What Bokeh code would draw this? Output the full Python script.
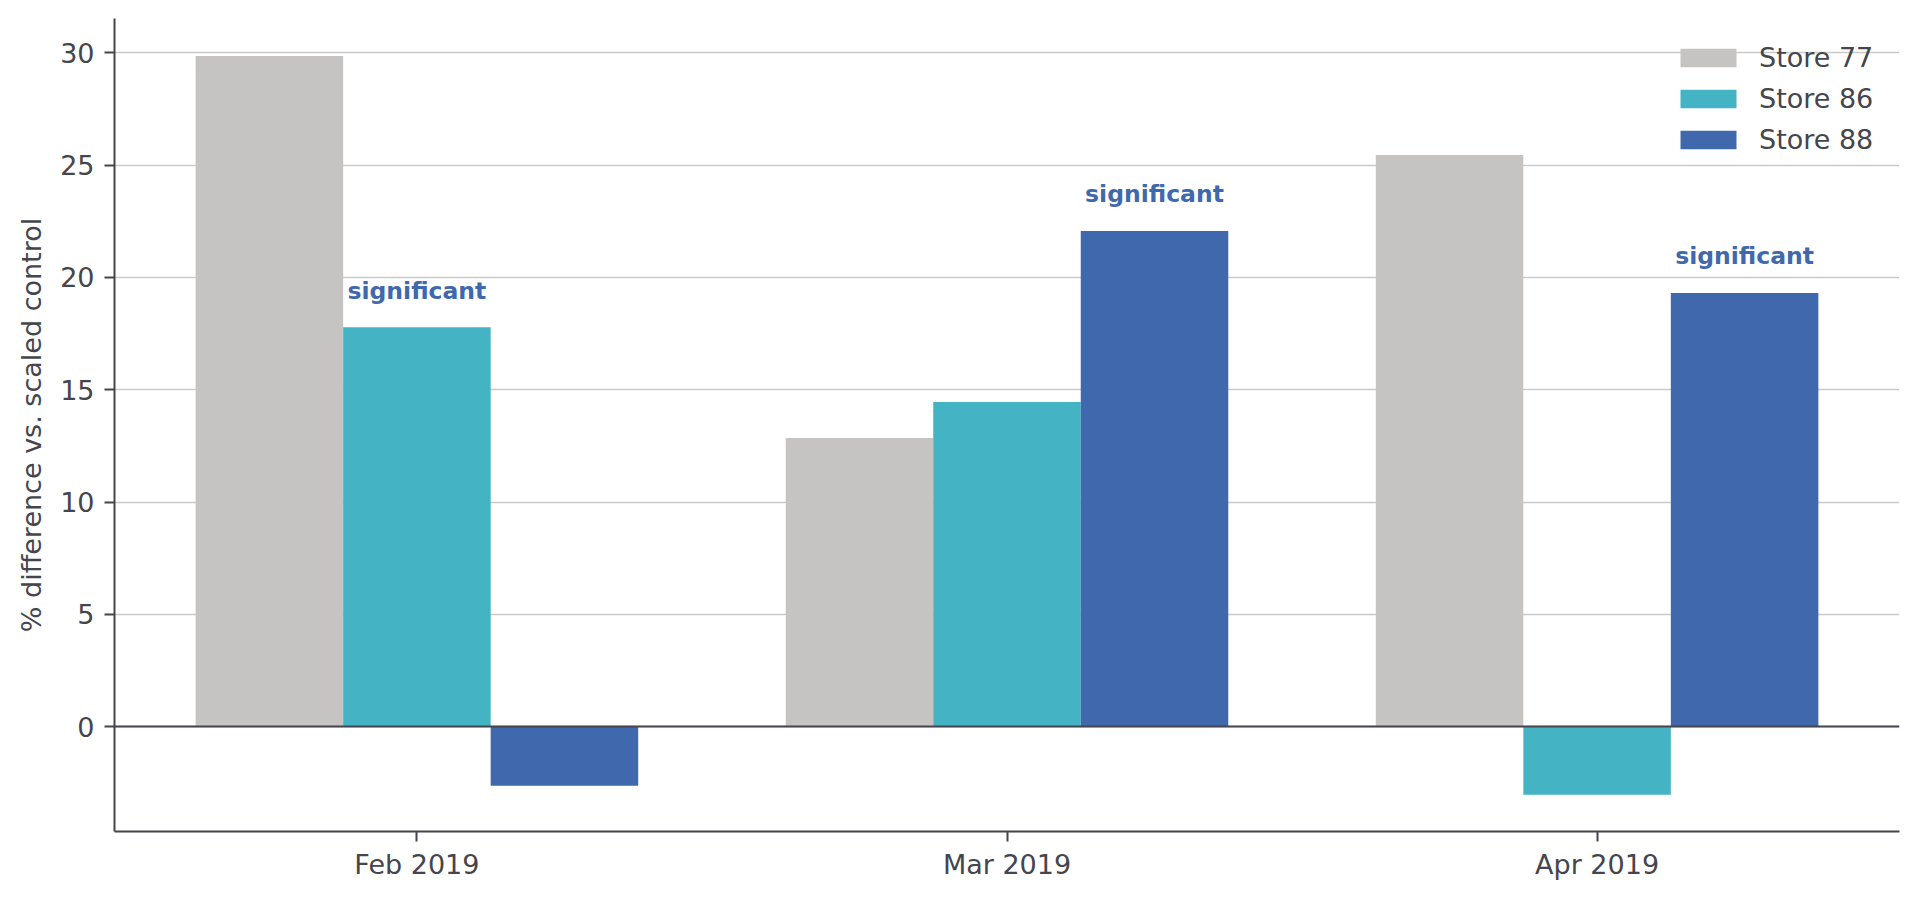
from bokeh.plotting import figure
from bokeh.models import (ColumnDataSource, FactorRange, Range1d, Span,
                          Legend, LegendItem, FixedTicker)
from bokeh.transform import dodge
from bokeh.core.properties import value
from bokeh.embed import file_html
from bokeh.resources import INLINE

# ---- data ----
months = ["Feb 2019", "Mar 2019", "Apr 2019"]
store77 = [29.86, 12.85, 25.45]
store86 = [17.78, 14.45, -3.03]
store88 = [-2.63, 22.07, 19.31]
sig86 = ["significant", "", ""]
sig88 = ["", "significant", "significant"]
y_ticks = [0, 5, 10, 15, 20, 25, 30]

C77 = "#c5c4c2"
C86 = "#44b4c4"
C88 = "#4068ac"
TXT = "#45454d"
FONT = "DejaVu Sans"

source = ColumnDataSource(dict(
    month=months, s77=store77, s86=store86, s88=store88,
    sig86=sig86, sig88=sig88,
    y86=[v + 1 for v in store86], y88=[v + 1 for v in store88],
))

p = figure(
    width=1920, height=899, output_backend="svg", toolbar_location=None,
    x_range=FactorRange(factors=months, range_padding=0.0125,
                        range_padding_units="absolute"),
    y_range=Range1d(-4.67, 31.53),
    min_border_left=114, min_border_right=21, min_border_top=18,
    min_border_bottom=68,
)
p.outline_line_color = None
p.background_fill_color = "white"

r77 = p.vbar(x=dodge("month", -0.25, range=p.x_range), top="s77", width=0.25,
             source=source, fill_color=C77, line_color=None)
r86 = p.vbar(x=dodge("month", 0.0, range=p.x_range), top="s86", width=0.25,
             source=source, fill_color=C86, line_color=None)
r88 = p.vbar(x=dodge("month", 0.25, range=p.x_range), top="s88", width=0.25,
             source=source, fill_color=C88, line_color=None)

p.text(x=dodge("month", 0.0, range=p.x_range), y="y86", text="sig86",
       source=source, text_font=value(FONT), text_font_style="bold",
       text_font_size="23.5px", text_color=C88, text_align="center",
       text_baseline="bottom")
p.text(x=dodge("month", 0.25, range=p.x_range), y="y88", text="sig88",
       source=source, text_font=value(FONT), text_font_style="bold",
       text_font_size="23.5px", text_color=C88, text_align="center",
       text_baseline="bottom")

p.add_layout(Span(location=0, dimension="width", line_color=TXT,
                  line_width=2))

# grid
p.xgrid.grid_line_color = None
p.ygrid.grid_line_color = "#c9c9c9"
p.ygrid.grid_line_width = 1.7
p.ygrid.ticker = FixedTicker(ticks=y_ticks)

# axes
p.yaxis.ticker = FixedTicker(ticks=y_ticks)
for ax in (p.xaxis[0], p.yaxis[0]):
    ax.axis_line_color = TXT
    ax.axis_line_width = 2
    ax.major_tick_line_color = TXT
    ax.major_tick_line_width = 2
    ax.major_tick_out = 10
    ax.major_tick_in = 0
    ax.minor_tick_line_color = None
    ax.major_label_text_font = FONT
    ax.major_label_text_font_size = "27px"
    ax.major_label_text_color = TXT
    ax.axis_label_text_font = FONT
    ax.axis_label_text_font_size = "27px"
    ax.axis_label_text_color = TXT
    ax.axis_label_text_font_style = "normal"
p.xaxis.major_label_standoff = 7
p.yaxis.major_label_standoff = 10
p.yaxis.axis_label = "% difference vs. scaled control"
p.yaxis.axis_label_standoff = 10

# legend
legend = Legend(items=[
    LegendItem(label="Store 77", renderers=[r77]),
    LegendItem(label="Store 86", renderers=[r86]),
    LegendItem(label="Store 88", renderers=[r88]),
], location=(1559, 671))
legend.background_fill_alpha = 0
legend.border_line_color = None
legend.padding = 0
legend.margin = 0
legend.spacing = 0
legend.glyph_width = 70
legend.glyph_height = 23
legend.label_height = 41
legend.label_standoff = 16
legend.label_text_font = FONT
legend.label_text_font_size = "27px"
legend.label_text_color = TXT
p.add_layout(legend)

open("out.html", "w").write(file_html(p, INLINE))
